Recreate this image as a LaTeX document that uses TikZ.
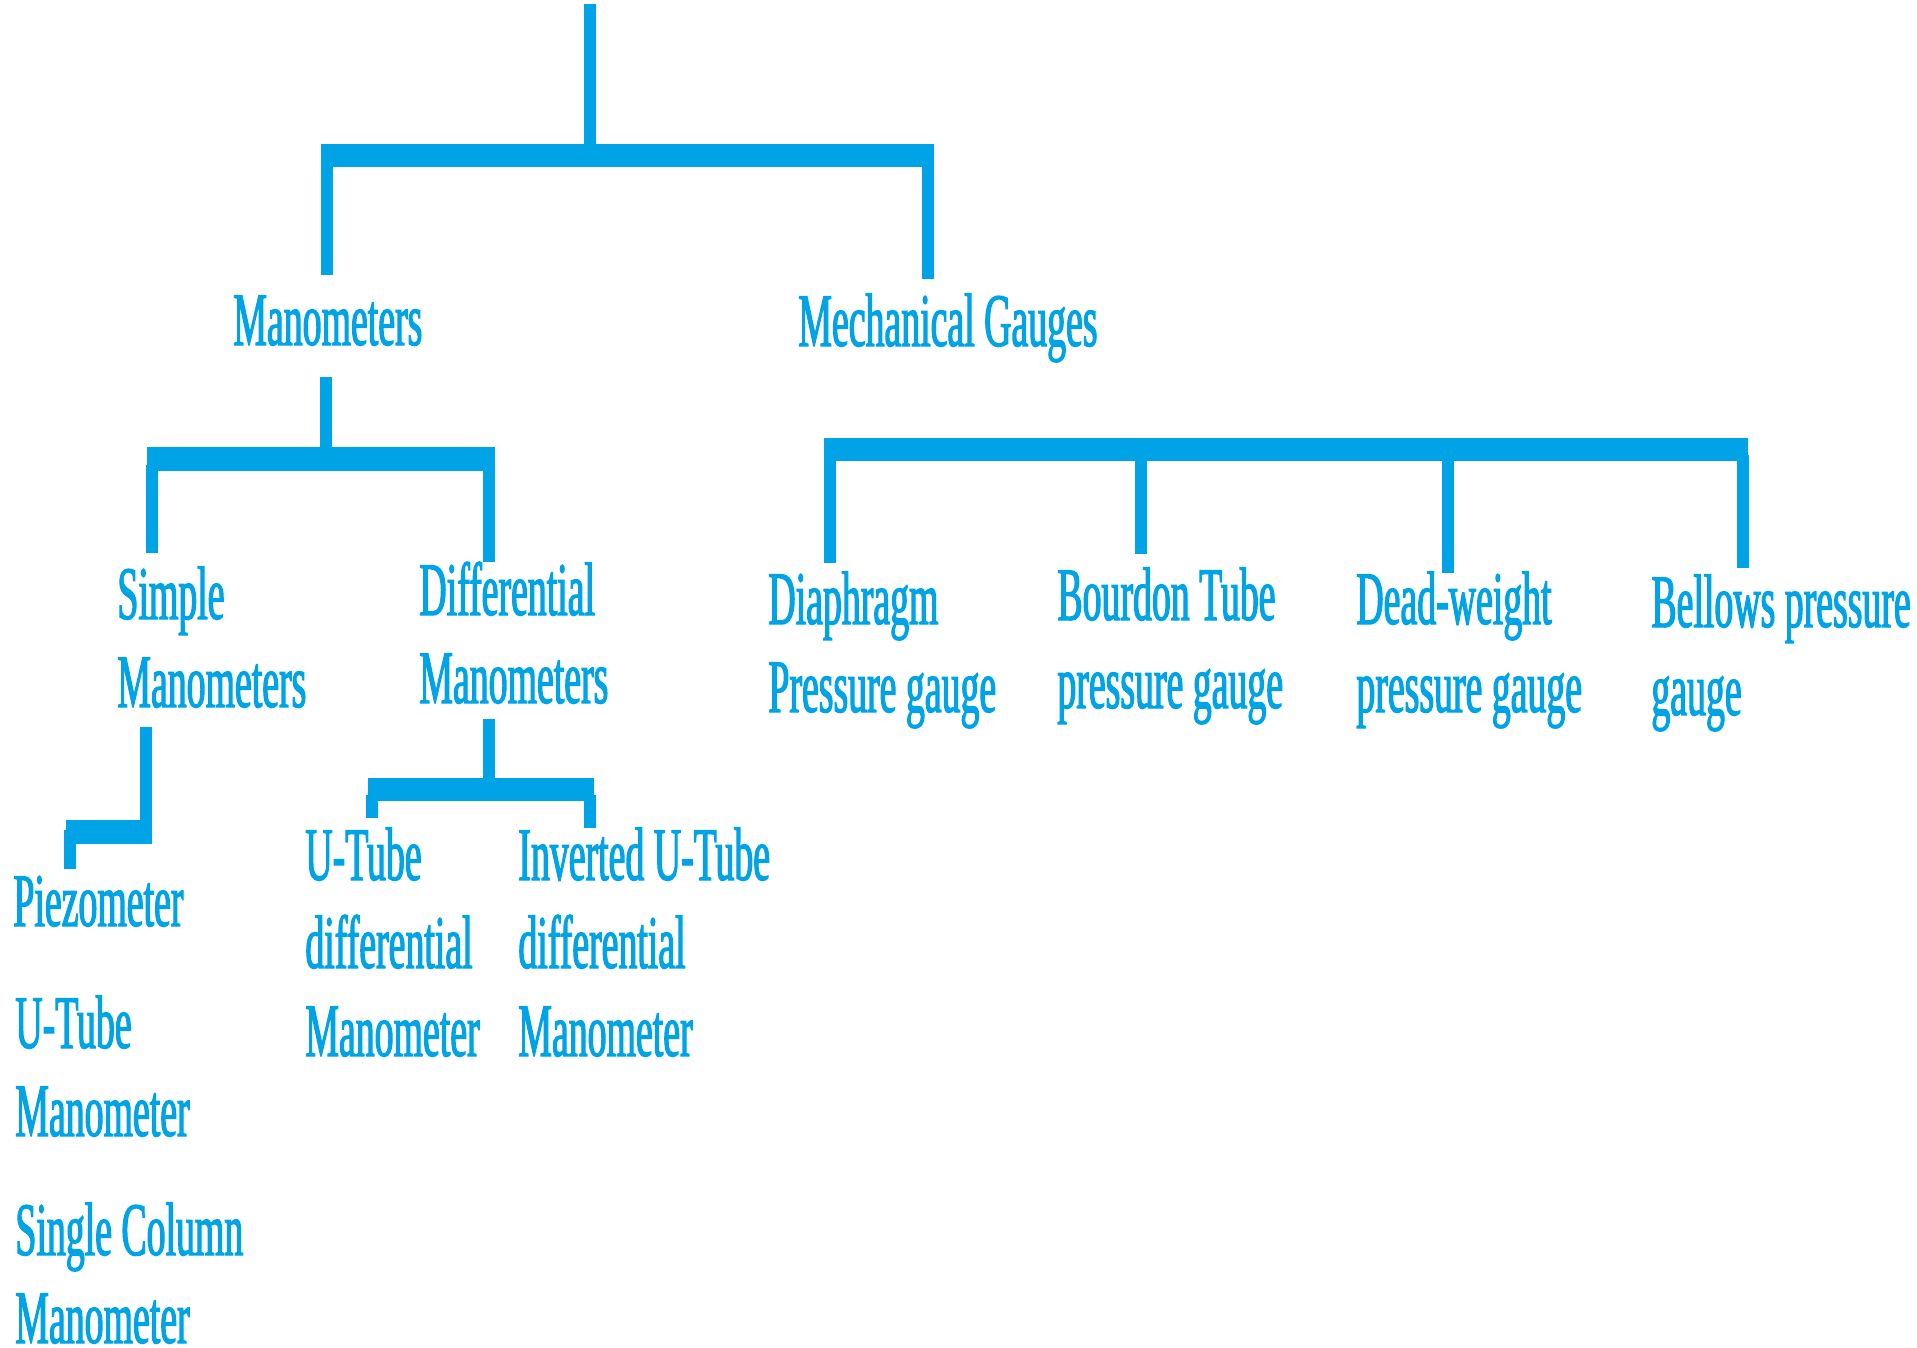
\documentclass[tikz,border=0pt]{standalone}
\usepackage{fontspec}
\setmainfont[FakeStretch=0.5,FakeBold=1.5]{Liberation Serif}
\definecolor{tblue}{RGB}{0,164,230}
\begin{document}
\begin{tikzpicture}[x=0.5pt,y=-0.5pt,
  lbl/.style={inner sep=0pt, anchor=base west, align=left, text=tblue,
              font=\fontsize{37.8}{44}\selectfont},
  vline/.style={line width=6pt, draw=tblue},
  hbar/.style={fill=tblue}]
\useasboundingbox (0,0) rectangle (1917,1348);

% labels (anchor = baseline of last line)
\node[lbl] (man) at (233,345) {Manometers};
\node[lbl] (mech) at (798,346) {Mechanical Gauges};
\node[lbl] (simple) at (117,707) {Simple\\Manometers};
\node[lbl] (diff) at (419,703) {Differential\\Manometers};
\node[lbl] (piezo) at (13,926) {Piezometer};
\node[lbl] (utube) at (15,1136) {U-Tube\\Manometer};
\node[lbl] (single) at (15,1343) {Single Column\\Manometer};
\node[lbl] (udiff) at (305,1056) {U-Tube\\differential\\Manometer};
\node[lbl] (invu) at (518,1056) {Inverted U-Tube\\differential\\Manometer};
\node[lbl] (diaph) at (768,712) {Diaphragm\\Pressure gauge};
\node[lbl] (bourdon) at (1057,708) {Bourdon Tube\\pressure gauge};
\node[lbl] (dead) at (1356,712) {Dead-weight\\pressure gauge};
\node[lbl] (bellows) at (1651,715) {Bellows pressure\\gauge};

% top level bracket
\draw[vline] (590,4) -- (590,150);
\fill[hbar] (321,144) rectangle (934,167);
\draw[vline] (327,160) -- (327,275);
\draw[vline] (928,160) -- (928,279);

% manometers bracket
\draw[vline] (326,377) -- (326,452);
\fill[hbar] (147,447) rectangle (495,471);
\draw[vline] (152,465) -- (152,553);
\draw[vline] (489,465) -- (489,562);

% simple manometers connector
\draw[vline] (146,727) -- (146,838);
\fill[hbar] (66,820) rectangle (152,844);
\draw[vline] (70,830) -- (70,869);

% differential bracket
\draw[vline] (489,719) -- (489,785);
\fill[hbar] (368,778) rectangle (594,801);
\draw[vline] (372,795) -- (372,818);
\draw[vline] (590,795) -- (590,828);

% mechanical gauges bracket
\fill[hbar] (824,438) rectangle (1748,461);
\draw[vline] (830,455) -- (830,563);
\draw[vline] (1141,455) -- (1141,554);
\draw[vline] (1448,455) -- (1448,573);
\draw[vline] (1743,455) -- (1743,568);
\end{tikzpicture}
\end{document}
